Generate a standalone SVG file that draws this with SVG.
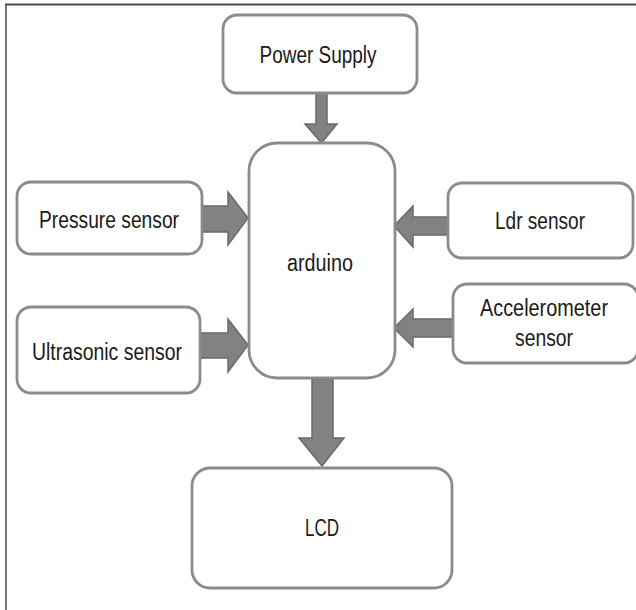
<svg xmlns="http://www.w3.org/2000/svg" width="636" height="610" viewBox="0 0 636 610">
<style>
.box{fill:#ffffff;stroke:#8c8c86;stroke-width:2.8}
.arr{fill:#828282;stroke:#6a6a66;stroke-width:1.5;stroke-linejoin:miter}
.lbl{font-family:"Liberation Sans",Arial,sans-serif;font-size:23px;fill:#1a1a1a;text-anchor:middle}
</style>
<rect x="0" y="0" width="636" height="610" fill="#ffffff"/>
<g id="frame">
<line x1="5" y1="4.5" x2="636" y2="4.5" stroke="#4a4a4a" stroke-width="2"/>
<line x1="6" y1="4" x2="6" y2="610" stroke="#4a4a4a" stroke-width="1.5"/>
</g>
<g id="connectors">
<polygon class="arr" points="316,93 327,93 327,124 337,124 321.5,143 305,124 316,124"/>
<polygon class="arr" points="202,206 228,206 228,192 248,218 228,245 228,232 202,232"/>
<polygon class="arr" points="200,333 228,333 228,319 248,345 228,372 228,358 200,358"/>
<polygon class="arr" points="448,217 413,217 413,206 394,226 413,247 413,235 448,235"/>
<polygon class="arr" points="453,319 413,319 413,309 394,328 413,347 413,337 453,337"/>
<polygon class="arr" points="312,379 333,379 333,438 344,438 322,466 299,438 312,438"/>
</g>
<g id="power-supply">
<rect class="box" x="223" y="15" width="194" height="78" rx="14"/>
<text class="lbl" x="318" y="63" textLength="117" lengthAdjust="spacingAndGlyphs">Power Supply</text>
</g>
<g id="arduino">
<rect class="box" x="249" y="143" width="146" height="235" rx="28"/>
<text class="lbl" x="320" y="271" textLength="66" lengthAdjust="spacingAndGlyphs">arduino</text>
</g>
<g id="pressure-sensor">
<rect class="box" x="17" y="182" width="185" height="72" rx="14"/>
<text class="lbl" x="109" y="228" textLength="140" lengthAdjust="spacingAndGlyphs">Pressure sensor</text>
</g>
<g id="ultrasonic-sensor">
<rect class="box" x="17" y="307" width="183" height="86" rx="14"/>
<text class="lbl" x="107" y="360" textLength="150" lengthAdjust="spacingAndGlyphs">Ultrasonic sensor</text>
</g>
<g id="ldr-sensor">
<rect class="box" x="448" y="183" width="185" height="75" rx="14"/>
<text class="lbl" x="540" y="229" textLength="90" lengthAdjust="spacingAndGlyphs">Ldr sensor</text>
</g>
<g id="accelerometer-sensor">
<rect class="box" x="453" y="284" width="185" height="79" rx="14"/>
<text class="lbl" x="544" y="316" textLength="128" lengthAdjust="spacingAndGlyphs">Accelerometer</text>
<text class="lbl" x="544" y="346" textLength="58" lengthAdjust="spacingAndGlyphs">sensor</text>
</g>
<g id="lcd">
<rect class="box" x="192" y="468" width="260" height="120" rx="18"/>
<text class="lbl" x="322" y="536" textLength="34" lengthAdjust="spacingAndGlyphs">LCD</text>
</g>
</svg>
